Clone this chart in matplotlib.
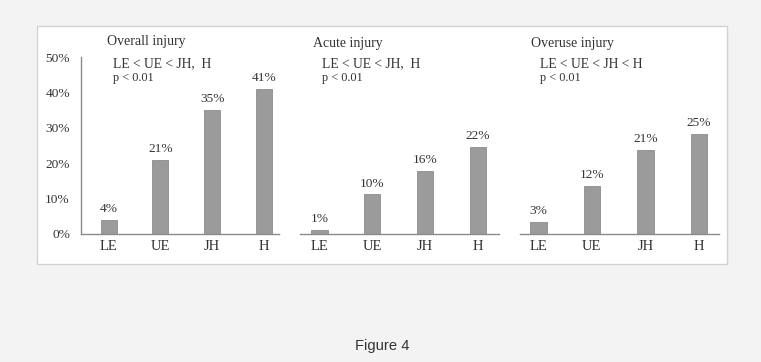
import matplotlib
matplotlib.use('Agg')
import matplotlib.pyplot as plt
from matplotlib.patches import Rectangle

plt.rcParams['font.family'] = ['Liberation Serif', 'DejaVu Serif']

W, H = 761, 362

groups = ['LE', 'UE', 'JH', 'H']
overall = [4, 21, 35, 41]
acute = [1, 10, 16, 22]
overuse = [3, 12, 21, 25]
titles = ['Overall injury', 'Acute injury', 'Overuse injury']
orders = ['LE < UE < JH,  H', 'LE < UE < JH,  H', 'LE < UE < JH < H']
pvals = ['p < 0.01', 'p < 0.01', 'p < 0.01']
yticks = [0, 10, 20, 30, 40, 50]

bar_color = '#9b9b9b'
text_color = '#333333'
axis_color = '#8a8a8a'

fig = plt.figure(figsize=(W / 100, H / 100), dpi=100)
fig.patch.set_facecolor('#f3f3f3')


def px_box(x0, y0, x1, y1):
    # pixel box (top-left origin) -> figure fraction [left, bottom, width, height]
    return [x0 / W, 1 - y1 / H, (x1 - x0) / W, (y1 - y0) / H]


def fig_text(x, y, s, **kw):
    fig.text(x / W, 1 - y / H, s, color=text_color, **kw)


# white frame behind the panels
fig.patches.append(Rectangle((36.5 / W, 1 - 263.5 / H), 690 / W, 237 / H,
                             transform=fig.transFigure, facecolor='white',
                             edgecolor='#d2d2d2', linewidth=1, zorder=-1))

# axes placement (pixels) and limits per panel
layout = [
    dict(box=(81, 57, 279, 234), xlim=(-0.535, 3.29), ylim=(0, 50)),
    dict(box=(300, 57, 499, 234), xlim=(-0.366, 3.40), ylim=(0, 44.7)),
    dict(box=(520, 57, 719, 234), xlim=(-0.34, 3.37), ylim=(0, 44.4)),
]
title_pos = [(107, 42), (313, 43), (531, 43)]
note_pos = [(113, 64), (322, 64), (540, 64)]

for k, (vals, lay) in enumerate(zip([overall, acute, overuse], layout)):
    ax = fig.add_axes(px_box(*lay['box']))
    ax.set_facecolor('none')
    x = range(len(groups))
    ax.bar(x, vals, width=0.31, color=bar_color, edgecolor='#8c8c8c', linewidth=0.6)
    for i, v in enumerate(vals):
        ax.annotate(f'{v}%', (i, v), xytext=(0, 3.5), textcoords='offset points',
                    ha='center', va='bottom', fontsize=9.6, color=text_color)
    ax.set_xlim(*lay['xlim'])
    ax.set_ylim(*lay['ylim'])
    ax.set_xticks(list(x))
    ax.set_xticklabels(groups, fontsize=10.5, color=text_color)
    ax.tick_params(axis='x', length=0, pad=4.5)
    for side in ['top', 'right']:
        ax.spines[side].set_visible(False)
    ax.spines['bottom'].set_color(axis_color)
    ax.spines['bottom'].set_linewidth(1)
    if k == 0:
        ax.set_yticks(yticks)
        ax.set_yticklabels([f'{t}%' for t in yticks], fontsize=9.6, color=text_color)
        ax.tick_params(axis='y', length=0, pad=8)
        ax.spines['left'].set_color(axis_color)
        ax.spines['left'].set_linewidth(1)
    else:
        ax.set_yticks([])
        ax.spines['left'].set_visible(False)

    tx, ty = title_pos[k]
    fig_text(tx, ty, titles[k], fontsize=10, ha='left', va='center')
    nx, ny = note_pos[k]
    fig_text(nx, ny, orders[k], fontsize=9.8, ha='left', va='center')
    fig_text(nx, ny + 14.5, pvals[k], fontsize=8.8, ha='left', va='center')

fig.text(382 / W, 1 - 346 / H, 'Figure 4', ha='center', va='center',
         fontsize=10.6, color='#333333', family='Liberation Sans')

fig.savefig('out.png', dpi=100, facecolor=fig.get_facecolor())
